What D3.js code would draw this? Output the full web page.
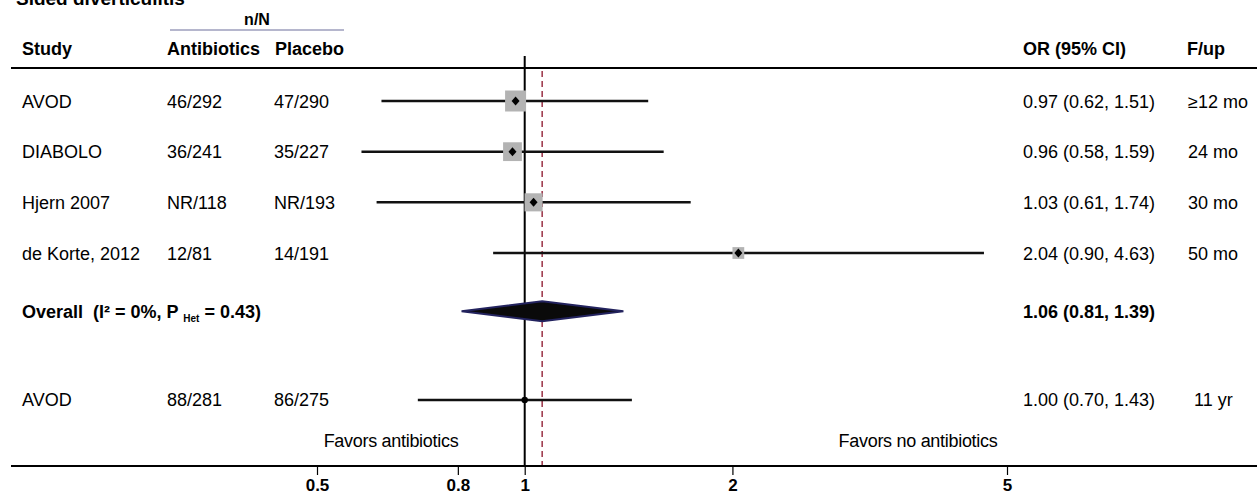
<!DOCTYPE html>
<html>
<head>
<meta charset="utf-8">
<script src="https://cdn.jsdelivr.net/npm/d3@7"></script>
<style>
body{margin:0;background:#fff}
svg{font-family:"Liberation Sans",Arial,sans-serif;font-size:18px}
text{white-space:pre}
</style>
</head>
<body>
<div class="canvas"></div>
<script>
// study rows
var studies=["AVOD","DIABOLO","Hjern 2007","de Korte, 2012"];
var abxCounts=["46/292","36/241","NR/118","12/81"];
var placeboCounts=["47/290","35/227","NR/193","14/191"];
var oddsRatio=[0.97,0.96,1.03,2.04];
var ciLow=[0.62,0.58,0.61,0.90];
var ciHigh=[1.51,1.59,1.74,4.63];
var weights=[35,28,26,11];
var followUp=["\u226512 mo","24 mo","30 mo","50 mo"];

// pooled estimate
var overallOR=1.06, overallLow=0.81, overallHigh=1.39;

// long term follow-up row
var lateStudy="AVOD", lateAbx="88/281", latePlacebo="86/275";
var lateOR=1.00, lateLow=0.70, lateHigh=1.43, lateFup="11 yr";

var tickValues=[0.5,0.8,1,2,5];

var width=1257, height=495;
var svg=d3.select(".canvas").append("svg")
    .attr("width",width)
    .attr("height",height);

var x=d3.scaleLog().domain([0.5,5]).range([317,1007]);
var y=d3.scaleLinear().domain([0,3]).range([101,253]);   // row slot -> y
var overallSlot=4.15, lateSlot=5.9;
var boxSize=d3.scaleSqrt().domain([0,35]).range([0,21]);
var fmt=d3.format(".2f");

// title (cut off at top)
svg.append("text").attr("x",16).attr("y",5)
   .attr("font-weight","bold").attr("font-size",19)
   .text("Sided diverticulitis");

// header
svg.append("text").attr("x",257).attr("y",25).attr("text-anchor","middle")
   .attr("font-weight","bold").attr("font-size",16).text("n/N");
svg.append("line").attr("x1",170).attr("x2",344).attr("y1",30).attr("y2",30)
   .attr("stroke","#6c6f9c").attr("stroke-width",1.2);
var header=[["Study",22],["Antibiotics",167],["Placebo",275],["OR (95% CI)",1023],["F/up",1187]];
svg.selectAll("text.head").data(header).enter().append("text")
   .attr("class","head")
   .attr("x",function(d){return d[1];})
   .attr("y",55)
   .attr("font-weight","bold")
   .text(function(d){return d[0];});
svg.append("line").attr("x1",11).attr("x2",width).attr("y1",68).attr("y2",68)
   .attr("stroke","black").attr("stroke-width",2);

// reference lines
var axisY=466;
svg.append("line").attr("x1",x(1)).attr("x2",x(1)).attr("y1",56).attr("y2",axisY)
   .attr("stroke","black").attr("stroke-width",2);
svg.append("line").attr("x1",x(overallOR)).attr("x2",x(overallOR)).attr("y1",71).attr("y2",axisY)
   .attr("stroke","#9a3145").attr("stroke-width",1.5).attr("stroke-dasharray","6,4");

// study text columns
var idx=d3.range(studies.length);
function textCol(arr,xpos,cls){
  svg.selectAll("text."+cls).data(idx).enter().append("text")
     .attr("class",cls)
     .attr("x",xpos)
     .attr("y",function(i){return y(i)+6.5;})
     .text(function(i){return arr[i];});
}
textCol(studies,22,"name");
textCol(abxCounts,167,"abx");
textCol(placeboCounts,274,"plc");
textCol(idx.map(function(i){return fmt(oddsRatio[i])+" ("+fmt(ciLow[i])+", "+fmt(ciHigh[i])+")";}),1023,"ci");
textCol(followUp,1188,"fup");

// CI lines, boxes, point marks
svg.selectAll("line.ci").data(idx).enter().append("line")
   .attr("class","ci")
   .attr("x1",function(i){return x(ciLow[i]);})
   .attr("x2",function(i){return x(ciHigh[i]);})
   .attr("y1",function(i){return y(i);})
   .attr("y2",function(i){return y(i);})
   .attr("stroke","#111").attr("stroke-width",2.5);
svg.selectAll("rect.box").data(idx).enter().append("rect")
   .attr("class","box")
   .attr("x",function(i){return x(oddsRatio[i])-boxSize(weights[i])/2;})
   .attr("y",function(i){return y(i)-boxSize(weights[i])/2;})
   .attr("width",function(i){return boxSize(weights[i]);})
   .attr("height",function(i){return boxSize(weights[i]);})
   .attr("fill","#b3b3b3");
svg.selectAll("path.pt").data(idx).enter().append("path")
   .attr("class","pt")
   .attr("transform",function(i){return "translate("+x(oddsRatio[i])+","+y(i)+")";})
   .attr("d","M0,-4.5L4,0L0,4.5L-4,0Z")
   .attr("fill","black");

// overall row
var oy=y(overallSlot);
var ov=svg.append("text").attr("x",22).attr("y",oy+6.5).attr("font-weight","bold");
ov.append("tspan").text("Overall  (I\u00b2 = 0%, P ");
ov.append("tspan").attr("font-size",10).attr("dy",4).text("Het");
ov.append("tspan").attr("dy",-4).text(" = 0.43)");
svg.append("path")
   .attr("d","M"+x(overallLow)+","+oy+"L"+x(overallOR)+","+(oy-10)+"L"+x(overallHigh)+","+oy+"L"+x(overallOR)+","+(oy+10)+"Z")
   .attr("fill","#0a0a0a").attr("stroke","#23235e").attr("stroke-width",2);
svg.append("text").attr("x",1023).attr("y",oy+6.5).attr("font-weight","bold")
   .text(fmt(overallOR)+" ("+fmt(overallLow)+", "+fmt(overallHigh)+")");

// long term row
var ly=y(lateSlot);
svg.append("text").attr("x",22).attr("y",ly+6.5).text(lateStudy);
svg.append("text").attr("x",167).attr("y",ly+6.5).text(lateAbx);
svg.append("text").attr("x",274).attr("y",ly+6.5).text(latePlacebo);
svg.append("line").attr("x1",x(lateLow)).attr("x2",x(lateHigh)).attr("y1",ly).attr("y2",ly)
   .attr("stroke","#111").attr("stroke-width",2.5);
svg.append("circle").attr("cx",x(lateOR)).attr("cy",ly).attr("r",3.2).attr("fill","black");
svg.append("text").attr("x",1023).attr("y",ly+6.5)
   .text(fmt(lateOR)+" ("+fmt(lateLow)+", "+fmt(lateHigh)+")");
svg.append("text").attr("x",1194).attr("y",ly+6.5).text(lateFup);

// favors labels
svg.append("text").attr("x",391).attr("y",447).attr("text-anchor","middle").attr("letter-spacing",-0.3).text("Favors antibiotics");
svg.append("text").attr("x",918).attr("y",447).attr("text-anchor","middle").attr("letter-spacing",-0.3).text("Favors no antibiotics");

// x axis
svg.append("line").attr("x1",11).attr("x2",width).attr("y1",axisY).attr("y2",axisY)
   .attr("stroke","black").attr("stroke-width",2);
var axis=svg.append("g").attr("transform","translate(0,"+axisY+")")
   .call(d3.axisBottom(x).tickValues(tickValues).tickFormat(function(d){return d;}).tickSize(9).tickPadding(4));
axis.select(".domain").remove();
axis.selectAll(".tick line").attr("stroke","black").attr("stroke-width",1.2);
axis.selectAll(".tick text").attr("font-size",17).attr("font-weight","bold")
   .attr("font-family","Liberation Sans, Arial, sans-serif").attr("fill","black");
</script>
</body>
</html>
